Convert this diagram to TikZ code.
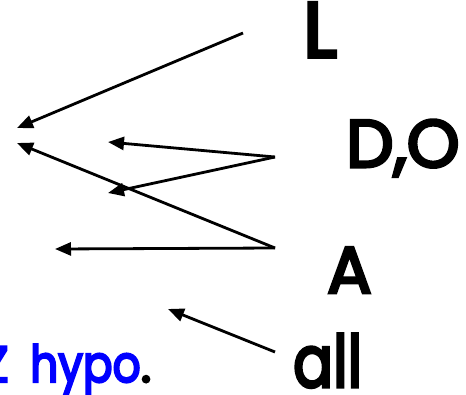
\documentclass[tikz,border=0pt]{standalone}
\usepackage{fontspec}
\setmainfont{Poppins}[BoldFont={Poppins}, BoldFeatures={FakeBold=4.5}]
\usetikzlibrary{arrows.meta}
\tikzset{
  arr/.style={line width=2.8pt, -{Triangle[length=16pt,width=13pt]}},
  lbl/.style={inner sep=0pt, anchor=base west, font=\bfseries}
}
\begin{document}
\begin{tikzpicture}[x=1pt,y=-1pt]
\useasboundingbox (0,0) rectangle (466,394);
\node[lbl, font=\bfseries\fontsize{78}{78}\selectfont] (L) at (303,57) {L};
\node[lbl, font=\bfseries\fontsize{67}{67}\selectfont] (DO) at (346,167) {D,O};
\node[lbl, font=\bfseries\fontsize{66}{66}\selectfont] (A) at (327,293) {A};
\node[lbl, font=\bfseries\fontsize{72}{72}\selectfont] (all) at (293,387) {\scalebox{0.82}[1]{all}};
\node[lbl, font=\bfseries\fontsize{51}{51}\selectfont, text=blue] (hyp) at (30,382) {\scalebox{0.86}[1]{hypo}\textcolor{black}{.}};
\node[inner sep=0pt, anchor=base east, font=\bfseries\fontsize{51}{51}\selectfont, text=blue] (Z) at (9,382) {Z};
\coordinate (sL) at (243,33);
\coordinate (sD) at (275,157);
\coordinate (sA) at (275,248);
\coordinate (sAll) at (275,352);
\coordinate (t1) at (17,128);
\coordinate (t2) at (17,143);
\coordinate (t3) at (108,142);
\coordinate (t4) at (108,193);
\coordinate (t5) at (55,249);
\coordinate (t6) at (168,309);
\draw[arr] (sL) -- (t1);
\draw[arr] (sD) -- (t3);
\draw[arr] (sD) -- (t4);
\draw[arr] (sA) -- (t2);
\draw[arr] (sA) -- (t5);
\draw[arr] (sAll) -- (t6);
\end{tikzpicture}
\end{document}
